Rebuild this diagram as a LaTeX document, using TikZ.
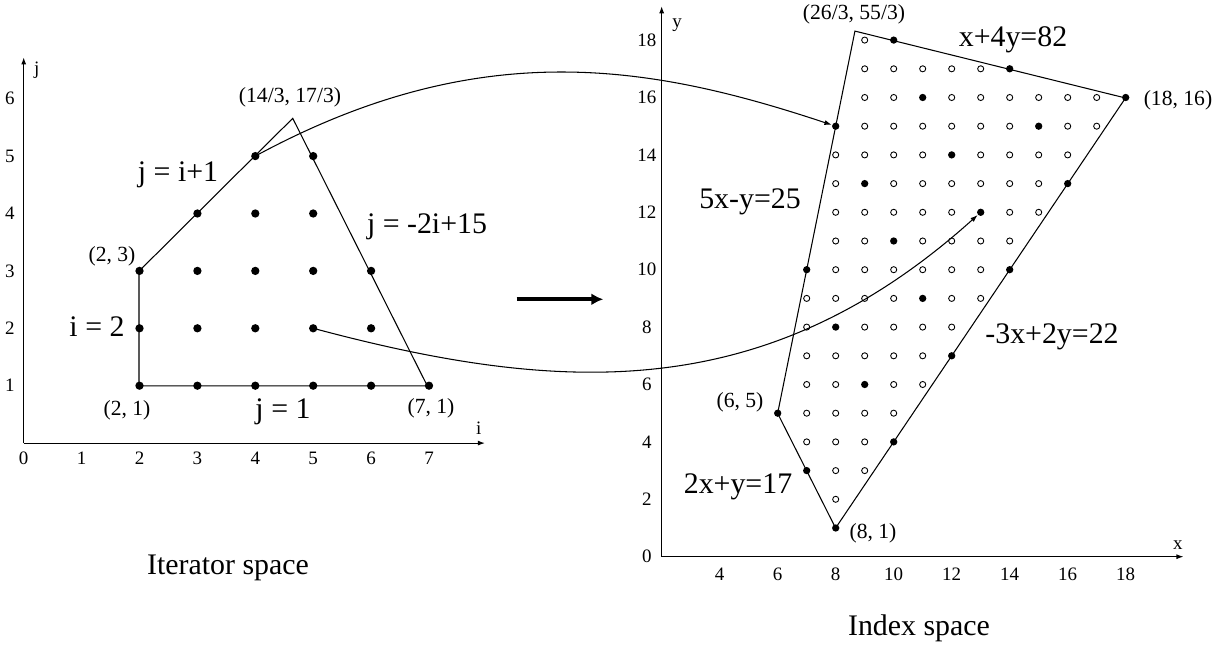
\documentclass[tikz,border=0pt]{standalone}
\usepackage{fontspec}
\setmainfont{Liberation Serif}
\usetikzlibrary{arrows.meta}
\begin{document}
\begin{tikzpicture}[x=0.02cm,y=-0.02cm,
  fdotL/.style={circle,fill=black,inner sep=0pt,minimum size=0.166cm},
  fdotR/.style={circle,fill=black,inner sep=0pt,minimum size=0.146cm},
  hdot/.style={circle,draw=black,line width=0.5pt,fill=white,inner sep=0pt,minimum size=0.122cm},
  big/.style={font=\fontsize{17}{20}\selectfont,inner sep=0pt},
  small/.style={font=\fontsize{12.3}{14}\selectfont,inner sep=0pt},
  ticklab/.style={font=\fontsize{10.8}{13}\selectfont,inner sep=0pt},
  axisline/.style={line width=0.6pt,-{Latex[length=0.14cm,width=0.1cm]}},
  edgeline/.style={line width=0.6pt},
  mapline/.style={line width=0.6pt,-{Latex[length=0.15cm,width=0.1cm]}}]
\useasboundingbox (0,0) rectangle (1225,651);

% ---------------- left: iterator space ----------------
\begin{scope}[shift={(23.7,443.1)},xscale=57.9,yscale=-57.4]
  \coordinate (LO) at (0,0);
  \coordinate (LX) at (8,0);
  \coordinate (LY) at (0,6.73);
  \draw[axisline] (LO) -- (LX);
  \draw[axisline] (LO) -- (LY);
  \foreach \i in {0,...,7} \node[ticklab] (LTi\i) at (\i,-0.265) {\i};
  \foreach \j in {1,...,6} \node[ticklab] (LTj\j) at (-0.237,\j) {\j};
  \node[ticklab] (Llabj) at (0.225,6.5) {j};
  \node[ticklab] (Llabi) at (7.86,0.263) {i};
  \coordinate (LA) at ({14/3},{17/3});
  \foreach \i/\jmax in {2/3,3/4,4/5,5/5,6/3,7/1}
    \foreach \j in {1,...,\jmax} \node[fdotL] (L\i\j) at (\i,\j) {};
  \draw[edgeline] (L21.center) -- (L23.center) -- (LA) -- (L71.center) -- cycle;
\end{scope}

\node[small] (tA) at (290,97) {(14/3, 17/3)};
\node[big] (tji) at (178,175) {j = i+1};
\node[big] (ti2) at (97,327) {i = 2};
\node[big] (tj1) at (283,412) {j = 1};
\node[big] (tj2) at (427,227) {j = -2i+15};
\node[small] (t23) at (112,256) {(2, 3)};
\node[small] (t21) at (127,410) {(2, 1)};
\node[small] (t71) at (431,408) {(7, 1)};
\node[big] (titer) at (228,568) {Iterator space};

% ---------------- middle arrow ----------------
\coordinate (MA) at (516.7,299.3);
\coordinate (MB) at (603.3,299.3);
\draw[line width=2.2pt,-{Latex[length=0.24cm,width=0.24cm]}] (MA) -- (MB);

% ---------------- right: index space ----------------
\begin{scope}[shift={(603.7,556.7)},xscale=29.0,yscale=-28.7]
  \coordinate (RO) at (2,0);
  \coordinate (RX) at (20,0);
  \coordinate (RY) at (2,19.2);
  \draw[axisline] (RO) -- (RX);
  \draw[axisline] (RO) -- (RY);
  \foreach \x in {4,6,...,18} \node[ticklab] (RTx\x) at (\x,-0.6) {\x};
  \foreach \y in {0,2,...,18} \node[ticklab] (RTy\y) at (1.49,\y) {\y};
  \node[ticklab] (Rlaby) at (2.53,18.53) {y};
  \node[ticklab] (Rlabx) at (19.8,0.41) {x};
  \coordinate (RA) at ({26/3},{55/3});
  \foreach \x/\y in {8/1,7/3,6/5,10/4,9/6,8/8,7/10,12/7,11/9,10/11,9/13,8/15,
                     14/10,13/12,12/14,11/16,10/18,16/13,15/15,14/17,18/16}
    \node[fdotR] (R\x-\y) at (\x,\y) {};
  \draw[edgeline] (R8-1.center) -- (R6-5.center) -- (RA) -- (R18-16.center) -- cycle;
  \foreach \y/\xs in {2/{8},3/{8,9},4/{7,8,9},5/{7,8,9,10},6/{7,8,10,11},
                      7/{7,8,9,10,11},8/{7,9,10,11,12},9/{7,8,9,10,12,13},
                      10/{8,9,10,11,12,13},11/{8,9,11,12,13,14},
                      12/{8,9,10,11,12,14,15},13/{8,10,11,12,13,14,15},
                      14/{8,9,10,11,13,14,15,16},15/{9,10,11,12,13,14,16,17},
                      16/{9,10,12,13,14,15,16,17},17/{9,10,11,12,13},18/{9}}
    \foreach \x in \xs \node[hdot] (H\x-\y) at (\x,\y) {};
\end{scope}

\node[small] (tRA) at (854,14) {(26/3, 55/3)};
\node[big] (tx4y) at (1013,40) {x+4y=82};
\node[small] (t1816) at (1178,100) {(18, 16)};
\node[big] (t5x) at (750,202) {5x-y=25};
\node[small] (t65) at (740,402) {(6, 5)};
\node[big] (t3x) at (1052,337) {-3x+2y=22};
\node[big] (t2x) at (738,487) {2x+y=17};
\node[small] (t81) at (873,533) {(8, 1)};
\node[big] (tindex) at (919,628) {Index space};

% ---------------- mapping curves ----------------
\draw[mapline] (L45.center) .. controls (480.2,34.2) and (651.2,64.9) .. (R8-15);
\draw[mapline] (L52.center) .. controls (564,395.5) and (767.3,404.1) .. (R13-12);
\end{tikzpicture}
\end{document}
